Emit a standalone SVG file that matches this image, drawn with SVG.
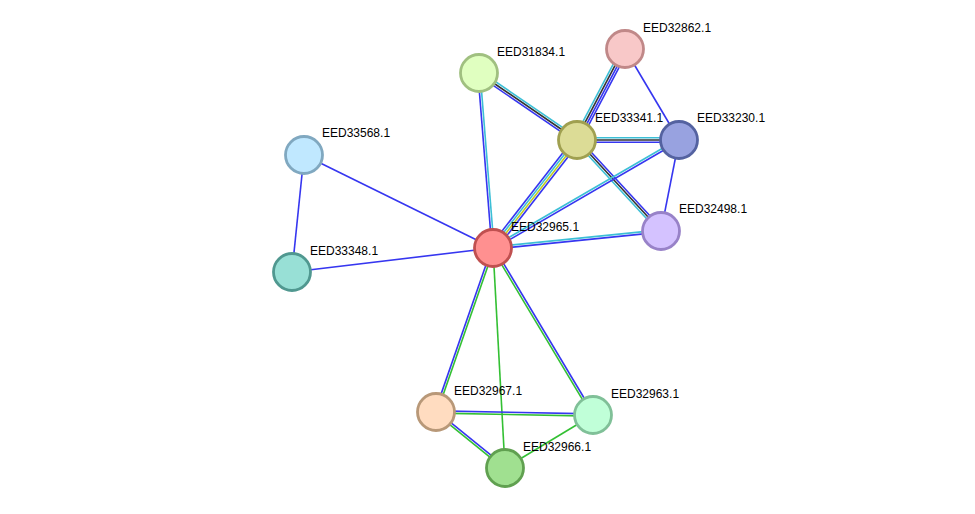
<svg xmlns="http://www.w3.org/2000/svg" width="975" height="514" viewBox="0 0 975 514">
<style>
.b{stroke:#3636f0;stroke-width:1.6;fill:none}
.c{stroke:#3cbfd6;stroke-width:1.6;fill:none}
.k{stroke:#333333;stroke-width:1.6;fill:none}
.g{stroke:#33c033;stroke-width:1.6;fill:none}
.y{stroke:#c0cc20;stroke-width:1.6;fill:none}
.n{stroke-width:2.8}
text{font-family:"Liberation Sans",Arial,sans-serif;font-size:12px;fill:#000}
</style>
<rect width="975" height="514" fill="#ffffff"/>
<g id="connectors">
<g transform="translate(479,73) rotate(34.36)"><line class="b" x1="0" y1="2.2" x2="118.7" y2="2.2"/><line class="k" x1="0" y1="0" x2="118.7" y2="0"/><line class="c" x1="0" y1="-2.2" x2="118.7" y2="-2.2"/></g>
<g transform="translate(479,73) rotate(85.43)"><line class="b" x1="0" y1="1.1" x2="175.6" y2="1.1"/><line class="c" x1="0" y1="-1.1" x2="175.6" y2="-1.1"/></g>
<g transform="translate(625,49) rotate(117.81)"><line class="c" x1="0" y1="3.3" x2="102.9" y2="3.3"/><line class="k" x1="0" y1="1.1" x2="102.9" y2="1.1"/><line class="b" x1="0" y1="-1.1" x2="102.9" y2="-1.1"/><line class="b" x1="0" y1="-3.3" x2="102.9" y2="-3.3"/></g>
<g transform="translate(625,49) rotate(59.32)"><line class="b" x1="0" y1="0" x2="105.8" y2="0"/></g>
<g transform="translate(577,140) rotate(0)"><line class="c" x1="0" y1="-2.2" x2="102" y2="-2.2"/><line class="k" x1="0" y1="0" x2="102" y2="0"/><line class="b" x1="0" y1="2.2" x2="102" y2="2.2"/></g>
<g transform="translate(577,140) rotate(47.29)"><line class="b" x1="0" y1="-2.2" x2="123.8" y2="-2.2"/><line class="k" x1="0" y1="0" x2="123.8" y2="0"/><line class="c" x1="0" y1="2.2" x2="123.8" y2="2.2"/></g>
<g transform="translate(577,140) rotate(127.87)"><line class="b" x1="0" y1="3.3" x2="136.8" y2="3.3"/><line class="c" x1="0" y1="1.1" x2="136.8" y2="1.1"/><line class="y" x1="0" y1="-1.1" x2="136.8" y2="-1.1"/><line class="b" x1="0" y1="-3.3" x2="136.8" y2="-3.3"/></g>
<g transform="translate(679,140) rotate(149.86)"><line class="c" x1="0" y1="1.1" x2="215.1" y2="1.1"/><line class="b" x1="0" y1="-1.1" x2="215.1" y2="-1.1"/></g>
<g transform="translate(679,140) rotate(101.19)"><line class="b" x1="0" y1="0" x2="92.8" y2="0"/></g>
<g transform="translate(661,231) rotate(174.22)"><line class="b" x1="0" y1="-1.1" x2="168.9" y2="-1.1"/><line class="c" x1="0" y1="1.1" x2="168.9" y2="1.1"/></g>
<line class="b" x1="304" y1="155" x2="493" y2="248"/>
<line class="b" x1="304" y1="155" x2="292" y2="272"/>
<line class="b" x1="292" y1="272" x2="493" y2="248"/>
<g transform="translate(493,248) rotate(109.16)"><line class="b" x1="0" y1="1.1" x2="173.6" y2="1.1"/><line class="g" x1="0" y1="-1.1" x2="173.6" y2="-1.1"/></g>
<line class="g" x1="493" y1="248" x2="505" y2="468"/>
<g transform="translate(493,248) rotate(59.09)"><line class="b" x1="0" y1="-1.1" x2="194.7" y2="-1.1"/><line class="g" x1="0" y1="1.1" x2="194.7" y2="1.1"/></g>
<g transform="translate(436,412) rotate(1.09)"><line class="b" x1="0" y1="-1.1" x2="157" y2="-1.1"/><line class="g" x1="0" y1="1.1" x2="157" y2="1.1"/></g>
<g transform="translate(436,412) rotate(39.06)"><line class="b" x1="0" y1="-1.1" x2="88.9" y2="-1.1"/><line class="g" x1="0" y1="1.1" x2="88.9" y2="1.1"/></g>
<line class="g" x1="505" y1="468" x2="593" y2="415"/>
</g>
<g id="n32862"><circle class="n" cx="625" cy="49" r="18.5" fill="#f8c8c8" stroke="#c08888"/><text x="643" y="32">EED32862.1</text></g>
<g id="n31834"><circle class="n" cx="479" cy="73" r="18.5" fill="#e0ffc0" stroke="#a0c080"/><text x="497" y="56">EED31834.1</text></g>
<g id="n33341"><circle class="n" cx="577" cy="140" r="18.5" fill="#dcdc96" stroke="#a0a050"/><text x="595" y="122">EED33341.1</text></g>
<g id="n33230"><circle class="n" cx="679" cy="140" r="18.5" fill="#98a2e0" stroke="#5462a0"/><text x="697" y="122">EED33230.1</text></g>
<g id="n33568"><circle class="n" cx="304" cy="155" r="18.5" fill="#c0e8ff" stroke="#80a8c0"/><text x="322" y="137">EED33568.1</text></g>
<g id="n32498"><circle class="n" cx="661" cy="231" r="18.5" fill="#d4c2ff" stroke="#9882c8"/><text x="679" y="213">EED32498.1</text></g>
<g id="n32965"><circle class="n" cx="493" cy="248" r="18.5" fill="#ff9090" stroke="#c05050"/><text x="511" y="231">EED32965.1</text></g>
<g id="n33348"><circle class="n" cx="292" cy="272" r="18.5" fill="#98e0d6" stroke="#509890"/><text x="310" y="255">EED33348.1</text></g>
<g id="n32967"><circle class="n" cx="436" cy="412" r="18.5" fill="#ffdcc0" stroke="#b89878"/><text x="454" y="395">EED32967.1</text></g>
<g id="n32963"><circle class="n" cx="593" cy="415" r="18.5" fill="#c0ffd8" stroke="#80c098"/><text x="611" y="398">EED32963.1</text></g>
<g id="n32966"><circle class="n" cx="505" cy="468" r="18.5" fill="#a0e090" stroke="#60a050"/><text x="523" y="451">EED32966.1</text></g>
</svg>
